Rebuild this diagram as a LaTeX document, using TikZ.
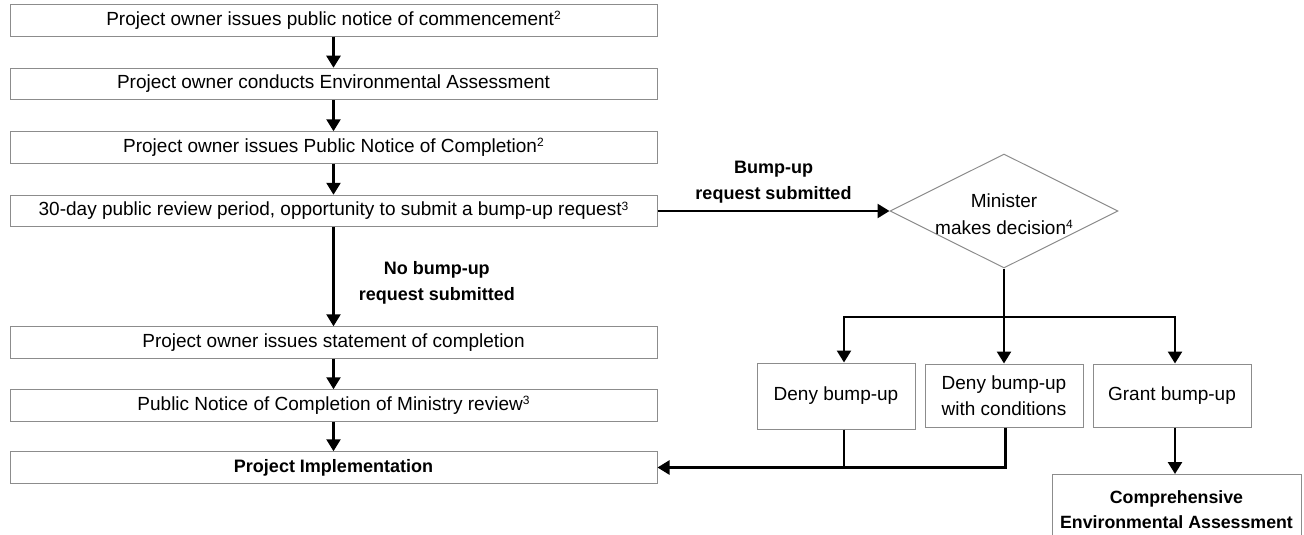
\documentclass[tikz,border=0pt]{standalone}
\usepackage{fontspec}
\setmainfont{Liberation Sans}
\usetikzlibrary{shapes.geometric,arrows.meta}
\newcommand{\supnum}[1]{\raisebox{5.5pt}{\fontsize{12}{12}\selectfont #1}}
\tikzset{
  box/.style={draw=black!45, line width=1pt, rectangle, inner sep=0pt, font=\fontsize{19}{26}\selectfont},
  wide/.style={box, minimum width=647pt, minimum height=31.5pt},
  small/.style={box, align=center, minimum width=158pt, minimum height=63pt},
  arr/.style={line width=2.5pt, -{Triangle[length=12pt,width=14pt]}},
  ln/.style={line width=2.5pt},
  lbl/.style={font=\bfseries\fontsize{18}{25.5}\selectfont, align=center, inner sep=0pt},
}
\begin{document}
\begin{tikzpicture}[x=1pt,y=-1pt]
\useasboundingbox (0,0) rectangle (1304,535);
\node[wide] (b1) at (333.5,20.5) {Project owner issues public notice of commencement\supnum{2}};
\node[wide] (b2) at (333.5,84) {Project owner conducts Environmental Assessment};
\node[wide] (b3) at (333.5,147.5) {Project owner issues Public Notice of Completion\supnum{2}};
\node[wide] (b4) at (333.5,211) {30-day public review period, opportunity to submit a bump-up request\supnum{3}};
\node[wide] (b5) at (333.5,342.5) {Project owner issues statement of completion};
\node[wide] (b6) at (333.5,405.5) {Public Notice of Completion of Ministry review\supnum{3}};
\node[wide] (b7) at (333.5,467.5) {\bfseries\fontsize{18}{22}\selectfont Project Implementation};
\node[box, diamond, minimum width=228pt, minimum height=114pt] (dm) at (1004,211) {};
\node[align=center, inner sep=0pt, font=\fontsize{19}{27}\selectfont] (dmt) at ([yshift=-3pt]dm.center) {Minister\\makes decision\supnum{4}};
\node[small, minimum height=66pt] (d1) at (836,396) {Deny bump-up};
\node[small] (d2) at (1004,395.5) {Deny bump-up\\with conditions};
\node[small] (d3) at (1172,395.5) {Grant bump-up};
\node[box, align=center, anchor=north, minimum width=249pt, minimum height=70pt, font=\bfseries\fontsize{17.75}{25}\selectfont] (ca) at (1176.5,474) {Comprehensive\\Environmental Assessment};
\coordinate (j) at (1004,317);
\draw[arr] (b1) -- (b2);
\draw[arr] (b2) -- (b3);
\draw[arr] (b3) -- (b4);
\draw[arr] (b4) -- node[lbl, right=24pt, yshift=-6pt] {No bump-up\\request submitted} (b5);
\draw[arr] (b5) -- (b6);
\draw[arr] (b6) -- (b7);
\draw[arr] (b4.east) -- node[lbl, above=7pt] {Bump-up\\request submitted} (dm.west);
\draw[ln] (dm.south) -- (j);
\draw[arr] (j) -| ([xshift=8pt]d1.north);
\draw[arr] (j) -| ([xshift=3pt]d3.north);
\draw[arr] (j) -- (d2.north);
\draw[ln] ([xshift=8pt]d1.south) -- ([xshift=8pt]d1.south |- b7.east);
\draw[arr] ([xshift=1.5pt]d2.south) |- (b7.east);
\draw[arr] ([xshift=3pt]d3.south) -- ([xshift=3pt]d3.south |- ca.north);
\end{tikzpicture}
\end{document}
